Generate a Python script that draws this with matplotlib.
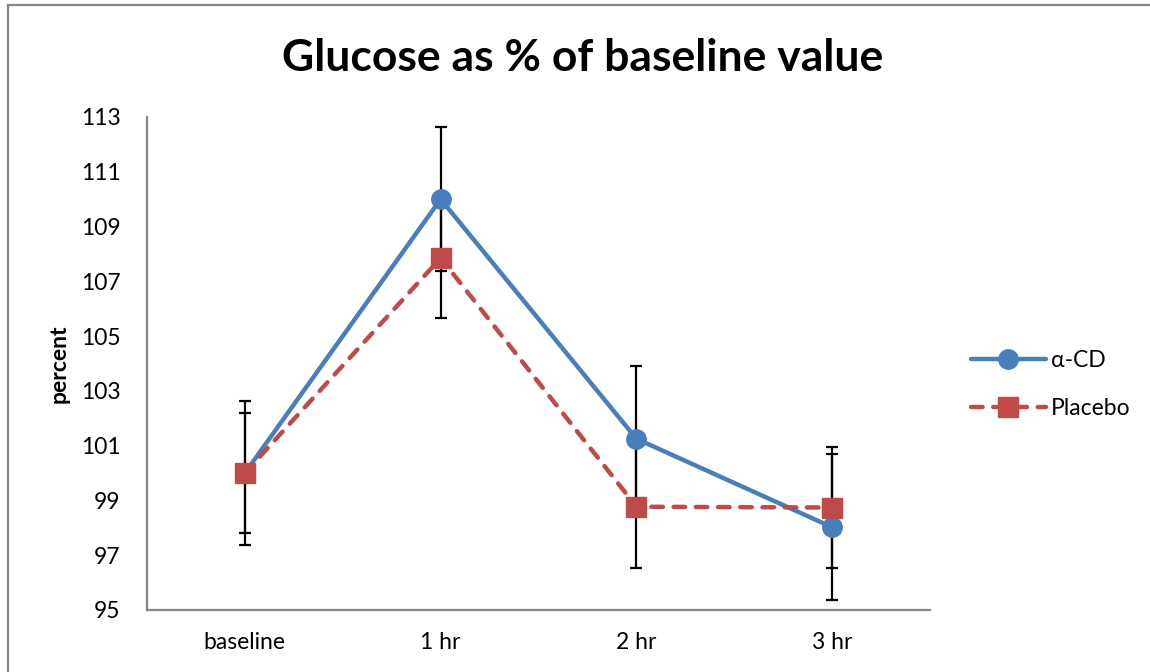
import matplotlib.pyplot as plt
from matplotlib.lines import Line2D

categories = ["baseline", "1 hr", "2 hr", "3 hr"]
acd = [100.0, 110.0, 101.25, 98.02]
acd_err = [2.63, 2.63, 2.64, 2.66]
placebo = [100.0, 107.85, 98.77, 98.74]
placebo_err = [2.2, 2.18, 2.22, 2.2]
yticks = [95, 97, 99, 101, 103, 105, 107, 109, 111, 113]

BLUE = "#4A7EBB"
RED = "#BE4B48"

plt.rcParams["font.family"] = ["Lato", "DejaVu Sans"]

fig = plt.figure(figsize=(11.5, 6.72), dpi=100)
ax = fig.add_axes([0.1278, 0.0923, 0.681, 0.7336])

x = list(range(len(categories)))

ax.errorbar(x, acd, yerr=acd_err, fmt="none", ecolor="black", elinewidth=1.6,
            capsize=4.5, capthick=1.6, zorder=2)
ax.errorbar(x, placebo, yerr=placebo_err, fmt="none", ecolor="black", elinewidth=1.6,
            capsize=4.5, capthick=1.6, zorder=2)

ax.plot(x, acd, color=BLUE, lw=3.2, marker="o", ms=14, mfc=BLUE, mec=BLUE,
        solid_capstyle="round", zorder=3, label="α-CD")
ax.plot(x, placebo, color=RED, lw=3.2, ls=(0, (2.6, 2.4)), dash_capstyle="round",
        marker="s", ms=14, mfc=RED, mec=RED, zorder=4, label="Placebo")

ax.set_xlim(-0.5, 3.5)
ax.set_ylim(95, 113)
ax.set_xticks(x)
ax.set_xticklabels(categories)
ax.set_yticks(yticks)
ax.tick_params(axis="both", length=0, labelsize=16.5)
ax.tick_params(axis="y", pad=19)
ax.tick_params(axis="x", pad=16)

for s in ["top", "right"]:
    ax.spines[s].set_visible(False)
for s in ["left", "bottom"]:
    ax.spines[s].set_color("#868686")
    ax.spines[s].set_linewidth(1.6)

ax.set_ylabel("percent", fontsize=16.5, fontweight="bold", labelpad=8)
fig.text(0.507, 0.913, "Glucose as % of baseline value", ha="center", va="center",
         fontsize=32, fontweight="bold")

ax.legend(loc="center left", bbox_to_anchor=(0.826, 0.428), bbox_transform=fig.transFigure,
          frameon=False, fontsize=16.5, handlelength=3.3, labelspacing=1.15, handletextpad=0.2)

# outer chart frame
fig.add_artist(Line2D([0.007, 1.0], [0.993, 0.993], transform=fig.transFigure,
                      color="#868686", lw=1.6))
fig.add_artist(Line2D([0.007, 0.007], [0.0, 0.993], transform=fig.transFigure,
                      color="#868686", lw=1.6))

fig.savefig("out.png", dpi=100)
